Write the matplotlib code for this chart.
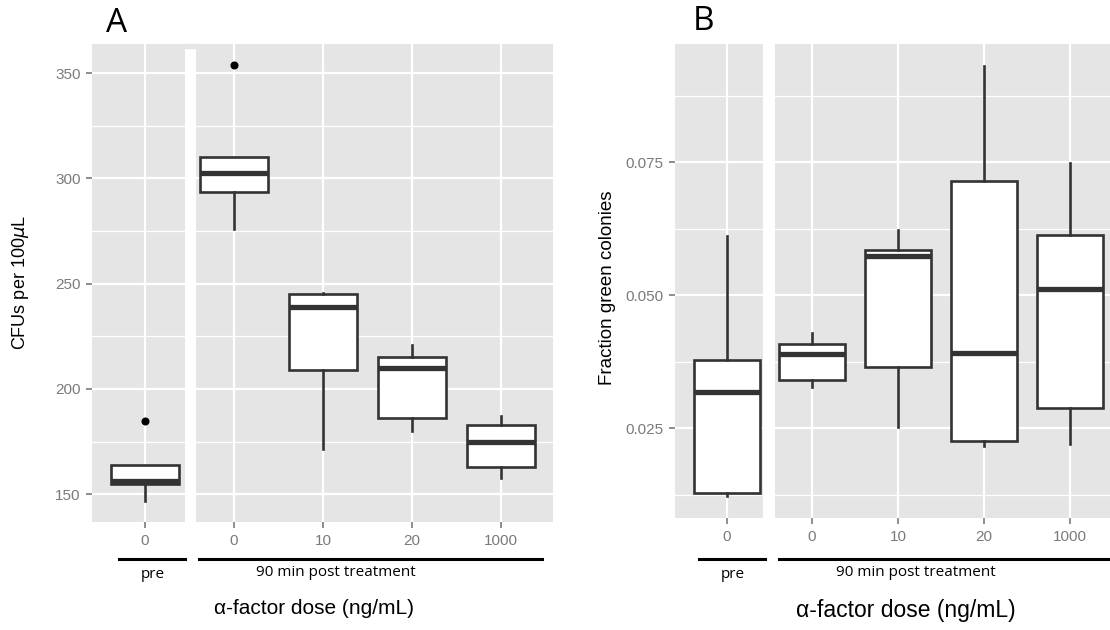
import matplotlib

matplotlib.use("Agg")
import matplotlib.pyplot as plt
from matplotlib.lines import Line2D
from matplotlib.patches import Rectangle

# ---------------------------------------------------------------------------
# Data: first entry = "pre", rest = 90 min post
# ---------------------------------------------------------------------------

dose_pre = ["0"]
dose_post = ["0", "10", "20", "1000"]

# Panel A: CFUs per 100 uL
cfu_whislo = [147, 276, 171.5, 180, 157.5]
cfu_q1 = [155, 293.5, 209, 186, 163]
cfu_med = [156.5, 302.5, 239, 210, 175]
cfu_q3 = [164, 310, 245, 215, 183]
cfu_whishi = [164, 310, 245.5, 221, 187]
cfu_fliers = [[185], [354], [], [], []]

# Panel B: fraction green colonies
frac_whislo = [0.0123, 0.0328, 0.0253, 0.0217, 0.0220]
frac_q1 = [0.0128, 0.0341, 0.0366, 0.0226, 0.0288]
frac_med = [0.0319, 0.0389, 0.0573, 0.0391, 0.0511]
frac_q3 = [0.0379, 0.0409, 0.0586, 0.0715, 0.0614]
frac_whishi = [0.0611, 0.0429, 0.0622, 0.0931, 0.0748]
frac_fliers = [[], [], [], [], []]

W, H = 1110, 630
BG = "#E5E5E5"
BOX = "#333333"
TICK_COL = "#7A7A7A"
SANS = ["Liberation Sans", "DejaVu Sans"]
HUMAN = ["Open Sans", "DejaVu Sans"]

fig = plt.figure(figsize=(W / 100, H / 100), dpi=100)


def px_axes(x0, y0, x1, y1):
    return fig.add_axes([x0 / W, 1 - y1 / H, (x1 - x0) / W, (y1 - y0) / H])


def make_stats(idx, whislo, q1, med, q3, whishi, fliers):
    return [
        {"whislo": whislo[i], "q1": q1[i], "med": med[i], "q3": q3[i],
         "whishi": whishi[i], "fliers": fliers[i]}
        for i in idx
    ]


def style_axes(ax, xlim, ylim, labels, major, minor, fmt):
    ax.set_facecolor(BG)
    ax.set_xlim(*xlim)
    ax.set_ylim(*ylim)
    for s in ax.spines.values():
        s.set_visible(False)
    ax.set_xticks(range(1, len(labels) + 1))
    ax.set_xticklabels(labels, fontfamily=SANS, fontsize=11, color=TICK_COL)
    ax.set_yticks(major)
    ax.set_yticks(minor, minor=True)
    ax.set_yticklabels([fmt(v) for v in major], fontfamily=SANS,
                       fontsize=11, color=TICK_COL)
    ax.tick_params(axis="both", which="major", length=4.3, width=1.2,
                   color=TICK_COL, pad=4)
    ax.tick_params(axis="y", which="minor", length=0)
    ax.grid(True, which="major", color="white", linewidth=1.6)
    ax.grid(True, which="minor", axis="y", color="white", linewidth=0.9)
    ax.set_axisbelow(True)


def draw_boxes(ax, stats, width):
    ax.bxp(
        stats,
        positions=range(1, len(stats) + 1),
        widths=width,
        showcaps=False,
        patch_artist=True,
        boxprops=dict(facecolor="white", edgecolor=BOX, linewidth=1.9),
        whiskerprops=dict(color=BOX, linewidth=1.9),
        medianprops=dict(color=BOX, linewidth=3.8, solid_capstyle="butt"),
        flierprops=dict(marker="o", markerfacecolor="black",
                        markeredgecolor="black", markersize=4.8),
        manage_ticks=False,
    )


# ---------------------------------------------------------------------------
# Panel A
# ---------------------------------------------------------------------------

ylim_a = (136.8, 363.9)
major_a = [150, 200, 250, 300, 350]
minor_a = [175, 225, 275, 325]

ax = px_axes(92, 44, 185, 522)
style_axes(ax, (1 - 53 / 89, 1 + 40 / 89), ylim_a, dose_pre, major_a, minor_a,
           lambda v: f"{v:d}")
draw_boxes(ax, make_stats([0], cfu_whislo, cfu_q1, cfu_med, cfu_q3,
                          cfu_whishi, cfu_fliers), 0.76)

ax = px_axes(196, 44, 553, 522)
style_axes(ax, (1 - 38 / 89, 4 + 52 / 89), ylim_a, dose_post, major_a, minor_a,
           lambda v: f"{v:d}")
ax.tick_params(axis="y", which="both", left=False, labelleft=False)
draw_boxes(ax, make_stats([1, 2, 3, 4], cfu_whislo, cfu_q1, cfu_med, cfu_q3,
                          cfu_whishi, cfu_fliers), 0.76)

# little grey bridge above the white facet gap
fig.patches.append(Rectangle((185 / W, 1 - 48 / H), 11 / W, 4 / H,
                             transform=fig.transFigure, color=BG, zorder=0))

fig.text(21 / W, 1 - 283 / H, "CFUs per 100$\\mu$L", rotation=90,
         ha="center", va="center", fontfamily=SANS, fontsize=13)
fig.text(117 / W, 1 - 23 / H, "A", ha="center", va="center",
         fontfamily=HUMAN, fontsize=24)

# ---------------------------------------------------------------------------
# Panel B
# ---------------------------------------------------------------------------

ylim_b = (0.00814, 0.09724)
major_b = [0.025, 0.050, 0.075]
minor_b = [0.0125, 0.0375, 0.0625, 0.0875]

ax = px_axes(675, 44, 763, 518)
style_axes(ax, (1 - 52 / 86, 1 + 36 / 86), ylim_b, dose_pre, major_b, minor_b,
           lambda v: f"{v:.3f}")
draw_boxes(ax, make_stats([0], frac_whislo, frac_q1, frac_med, frac_q3,
                          frac_whishi, frac_fliers), 0.77)

ax = px_axes(775, 44, 1110, 518)
style_axes(ax, (1 - 37 / 86, 4 + 40 / 86), ylim_b, dose_post, major_b, minor_b,
           lambda v: f"{v:.3f}")
ax.tick_params(axis="y", which="both", left=False, labelleft=False)
draw_boxes(ax, make_stats([1, 2, 3, 4], frac_whislo, frac_q1, frac_med,
                          frac_q3, frac_whishi, frac_fliers), 0.77)

fig.text(607 / W, 1 - 288 / H, "Fraction green colonies", rotation=90,
         ha="center", va="center", fontfamily=SANS, fontsize=13.5)
fig.text(704 / W, 1 - 22 / H, "B", ha="center", va="center",
         fontfamily=HUMAN, fontsize=24)

# ---------------------------------------------------------------------------
# Group brackets under the x axis and x labels
# ---------------------------------------------------------------------------


def hline(x0, x1, y):
    fig.add_artist(Line2D([x0 / W, x1 / W], [1 - y / H, 1 - y / H],
                          transform=fig.transFigure, color="black",
                          linewidth=2.2))


def ftext(x, y, s, family, size):
    fig.text(x / W, 1 - y / H, s, ha="center", va="center",
             fontfamily=family, fontsize=size)


hline(119, 185, 559)
hline(199, 542, 559)
ftext(153, 574, "pre", HUMAN, 11)
ftext(336, 573, "90 min post treatment", HUMAN, 11)
ftext(314, 608, "α-factor dose (ng/mL)", SANS, 15)

hline(699, 765, 559)
hline(779, 1110, 559)
ftext(733, 574, "pre", HUMAN, 11)
ftext(916, 573, "90 min post treatment", HUMAN, 11)
ftext(906, 610, "α-factor dose (ng/mL)", SANS, 16.5)

fig.savefig("out.png", dpi=100)
